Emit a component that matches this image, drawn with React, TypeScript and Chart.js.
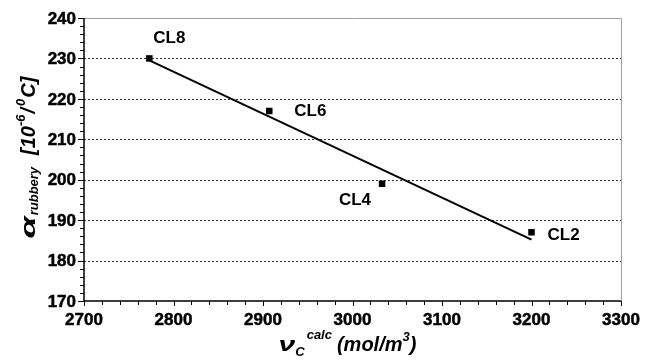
import React, { useEffect, useRef } from 'react';
import { Chart, registerables } from 'chart.js';

Chart.register(...registerables);

// ---- data ----
const sampleNames = ['CL8', 'CL6', 'CL4', 'CL2'];
const crosslinkDensity = [2773, 2907, 3033, 3200];
const alphaRubbery = [230, 217, 199, 187];
const trendX = [2773, 3200];
const trendY = [229.5, 185.2];
const xTickValues = [2700, 2800, 2900, 3000, 3100, 3200, 3300];
const yTickValues = [170, 180, 190, 200, 210, 220, 230, 240];

// label placement (pixels relative to the point)
const labelPlacement = [
  { dx: 4, dy: -20, align: 'left' },
  { dx: 25, dy: 0, align: 'left' },
  { dx: -11, dy: 17, align: 'right' },
  { dx: 16, dy: 3, align: 'left' },
];

const FAMILY = '"Liberation Sans", Arial, Helvetica, sans-serif';

type Seg = { t: string; size: number; dy?: number; gap?: number; sx?: number };

function drawRich(ctx: CanvasRenderingContext2D, segs: Seg[], cx: number, cy: number, rotate: boolean) {
  ctx.save();
  ctx.translate(cx, cy);
  if (rotate) ctx.rotate(-Math.PI / 2);
  ctx.textAlign = 'left';
  ctx.textBaseline = 'alphabetic';
  ctx.fillStyle = '#000';
  const widths = segs.map((s) => {
    ctx.font = `italic bold ${s.size}px ${FAMILY}`;
    return ctx.measureText(s.t).width * (s.sx || 1) + (s.gap || 0);
  });
  const total = widths.reduce((a, b) => a + b, 0);
  let x = -total / 2;
  segs.forEach((s, i) => {
    ctx.font = `italic bold ${s.size}px ${FAMILY}`;
    ctx.save();
    ctx.translate(x, s.dy || 0);
    ctx.scale(s.sx || 1, 1);
    ctx.fillText(s.t, 0, 0);
    ctx.restore();
    x += widths[i];
  });
  ctx.restore();
}

const framePlugin = {
  id: 'frame',
  beforeDatasetsDraw(chart: any) {
    const { ctx, chartArea: a, scales } = chart;
    const xs = scales.x;
    const ys = scales.y;
    ctx.save();
    // dotted gridlines
    ctx.strokeStyle = '#333';
    ctx.lineWidth = 1;
    ctx.setLineDash([2, 2]);
    yTickValues.slice(1, -1).forEach((v) => {
      const py = Math.round(ys.getPixelForValue(v)) + 0.5;
      ctx.beginPath();
      ctx.moveTo(a.left, py);
      ctx.lineTo(a.right, py);
      ctx.stroke();
    });
    ctx.setLineDash([]);
    // top + right border (gray)
    ctx.strokeStyle = '#a0a0a0';
    ctx.beginPath();
    ctx.moveTo(a.left, Math.round(a.top) + 0.5);
    ctx.lineTo(Math.round(a.right) + 0.5, Math.round(a.top) + 0.5);
    ctx.lineTo(Math.round(a.right) + 0.5, a.bottom);
    ctx.stroke();
    // axes
    ctx.strokeStyle = '#000';
    ctx.lineWidth = 1.5;
    ctx.beginPath();
    ctx.moveTo(a.left, a.top);
    ctx.lineTo(a.left, a.bottom);
    ctx.lineTo(a.right, a.bottom);
    ctx.stroke();
    // ticks
    ctx.lineWidth = 1;
    const y0 = yTickValues[0];
    const y1 = yTickValues[yTickValues.length - 1];
    for (let v = y0; v <= y1; v += 2) {
      const py = Math.round(ys.getPixelForValue(v)) + 0.5;
      const major = v % 10 === 0;
      ctx.beginPath();
      ctx.moveTo(a.left - (major ? 6 : 4), py);
      ctx.lineTo(a.left, py);
      ctx.stroke();
    }
    const x0 = xTickValues[0];
    const x1 = xTickValues[xTickValues.length - 1];
    for (let v = x0; v <= x1; v += 20) {
      const px = Math.round(xs.getPixelForValue(v)) + 0.5;
      const major = v % 100 === 0;
      ctx.beginPath();
      ctx.moveTo(px, a.bottom);
      ctx.lineTo(px, a.bottom + (major ? 5 : 4));
      ctx.stroke();
    }
    // tick labels
    ctx.fillStyle = '#000';
    ctx.strokeStyle = '#000';
    ctx.lineWidth = 0.5;
    ctx.font = `bold 17px ${FAMILY}`;
    ctx.textAlign = 'right';
    ctx.textBaseline = 'middle';
    yTickValues.forEach((v) => {
      const py = ys.getPixelForValue(v) + 1;
      ctx.fillText(String(v), a.left - 8, py);
      ctx.strokeText(String(v), a.left - 8, py);
    });
    ctx.textAlign = 'center';
    ctx.textBaseline = 'alphabetic';
    xTickValues.forEach((v) => {
      const px = xs.getPixelForValue(v);
      ctx.fillText(String(v), px, a.bottom + 24);
      ctx.strokeText(String(v), px, a.bottom + 24);
    });
    ctx.restore();
  },
  afterDatasetsDraw(chart: any) {
    const { ctx, scales } = chart;
    ctx.save();
    ctx.fillStyle = '#000';
    ctx.font = `bold 17px ${FAMILY}`;
    ctx.textBaseline = 'middle';
    sampleNames.forEach((name, i) => {
      const px = scales.x.getPixelForValue(crosslinkDensity[i]);
      const py = scales.y.getPixelForValue(alphaRubbery[i]);
      const p = labelPlacement[i];
      ctx.textAlign = p.align;
      ctx.fillText(name, px + p.dx, py + p.dy);
    });
    ctx.restore();
  },
  afterDraw(chart: any) {
    const { ctx, chartArea: a } = chart;
    const midX = (a.left + a.right) / 2;
    const midY = (a.top + a.bottom) / 2;
    drawRich(
      ctx,
      [
        { t: 'ν', size: 20, sx: 1.5 },
        { t: 'C', size: 13, dy: 5, gap: 2 },
        { t: 'calc', size: 13, dy: -12, gap: 5 },
        { t: '(mol/m', size: 20 },
        { t: '3', size: 13, dy: -10 },
        { t: ')', size: 20 },
      ],
      midX - 5,
      351,
      false
    );
    drawRich(
      ctx,
      [
        { t: 'α', size: 21, sx: 1.7, gap: 1 },
        { t: 'rubbery', size: 13, dy: 3, gap: 12 },
        { t: '[10', size: 20 },
        { t: '-6', size: 13, dy: -10, gap: 1 },
        { t: '/', size: 20, gap: 2 },
        { t: '0', size: 13, dy: -10, gap: 1 },
        { t: 'C]', size: 20 },
      ],
      35,
      midY - 2,
      true
    );
  },
};

export default function App() {
  const ref = useRef<HTMLCanvasElement>(null);
  useEffect(() => {
    if (!ref.current) return;
    const chart = new Chart(ref.current, {
      type: 'scatter',
      data: {
        datasets: [
          {
            label: 'trend',
            data: trendX.map((x, i) => ({ x, y: trendY[i] })),
            showLine: true,
            borderColor: '#000',
            borderWidth: 2,
            pointRadius: 0,
            fill: false,
          },
          {
            label: 'samples',
            data: crosslinkDensity.map((x, i) => ({ x, y: alphaRubbery[i] })),
            showLine: false,
            pointStyle: 'rect',
            pointRadius: 4.6,
            backgroundColor: '#000',
            borderColor: '#000',
            borderWidth: 0,
          },
        ],
      },
      options: {
        responsive: false,
        animation: false,
        layout: { padding: { left: 0, top: 18, right: 24, bottom: 0 } },
        plugins: { legend: { display: false }, tooltip: { enabled: false } },
        scales: {
          x: {
            type: 'linear',
            min: xTickValues[0],
            max: xTickValues[xTickValues.length - 1],
            grid: { display: false },
            border: { display: false },
            afterBuildTicks: (s: any) => {
              s.ticks = xTickValues.map((v) => ({ value: v }));
            },
            afterFit: (s: any) => {
              s.height = 60;
            },
            ticks: { display: false },
          },
          y: {
            type: 'linear',
            min: yTickValues[0],
            max: yTickValues[yTickValues.length - 1],
            grid: { display: false },
            border: { display: false },
            afterBuildTicks: (s: any) => {
              s.ticks = yTickValues.map((v) => ({ value: v }));
            },
            afterFit: (s: any) => {
              s.width = 84;
            },
            ticks: { display: false },
          },
        },
      },
      plugins: [framePlugin],
    } as any);
    return () => chart.destroy();
  }, []);
  return (
    <div style={{ position: 'absolute', left: 0, top: 0, width: 645, height: 361, background: '#fff' }}>
      <canvas ref={ref} width={645} height={361} style={{ display: 'block' }} />
    </div>
  );
}
